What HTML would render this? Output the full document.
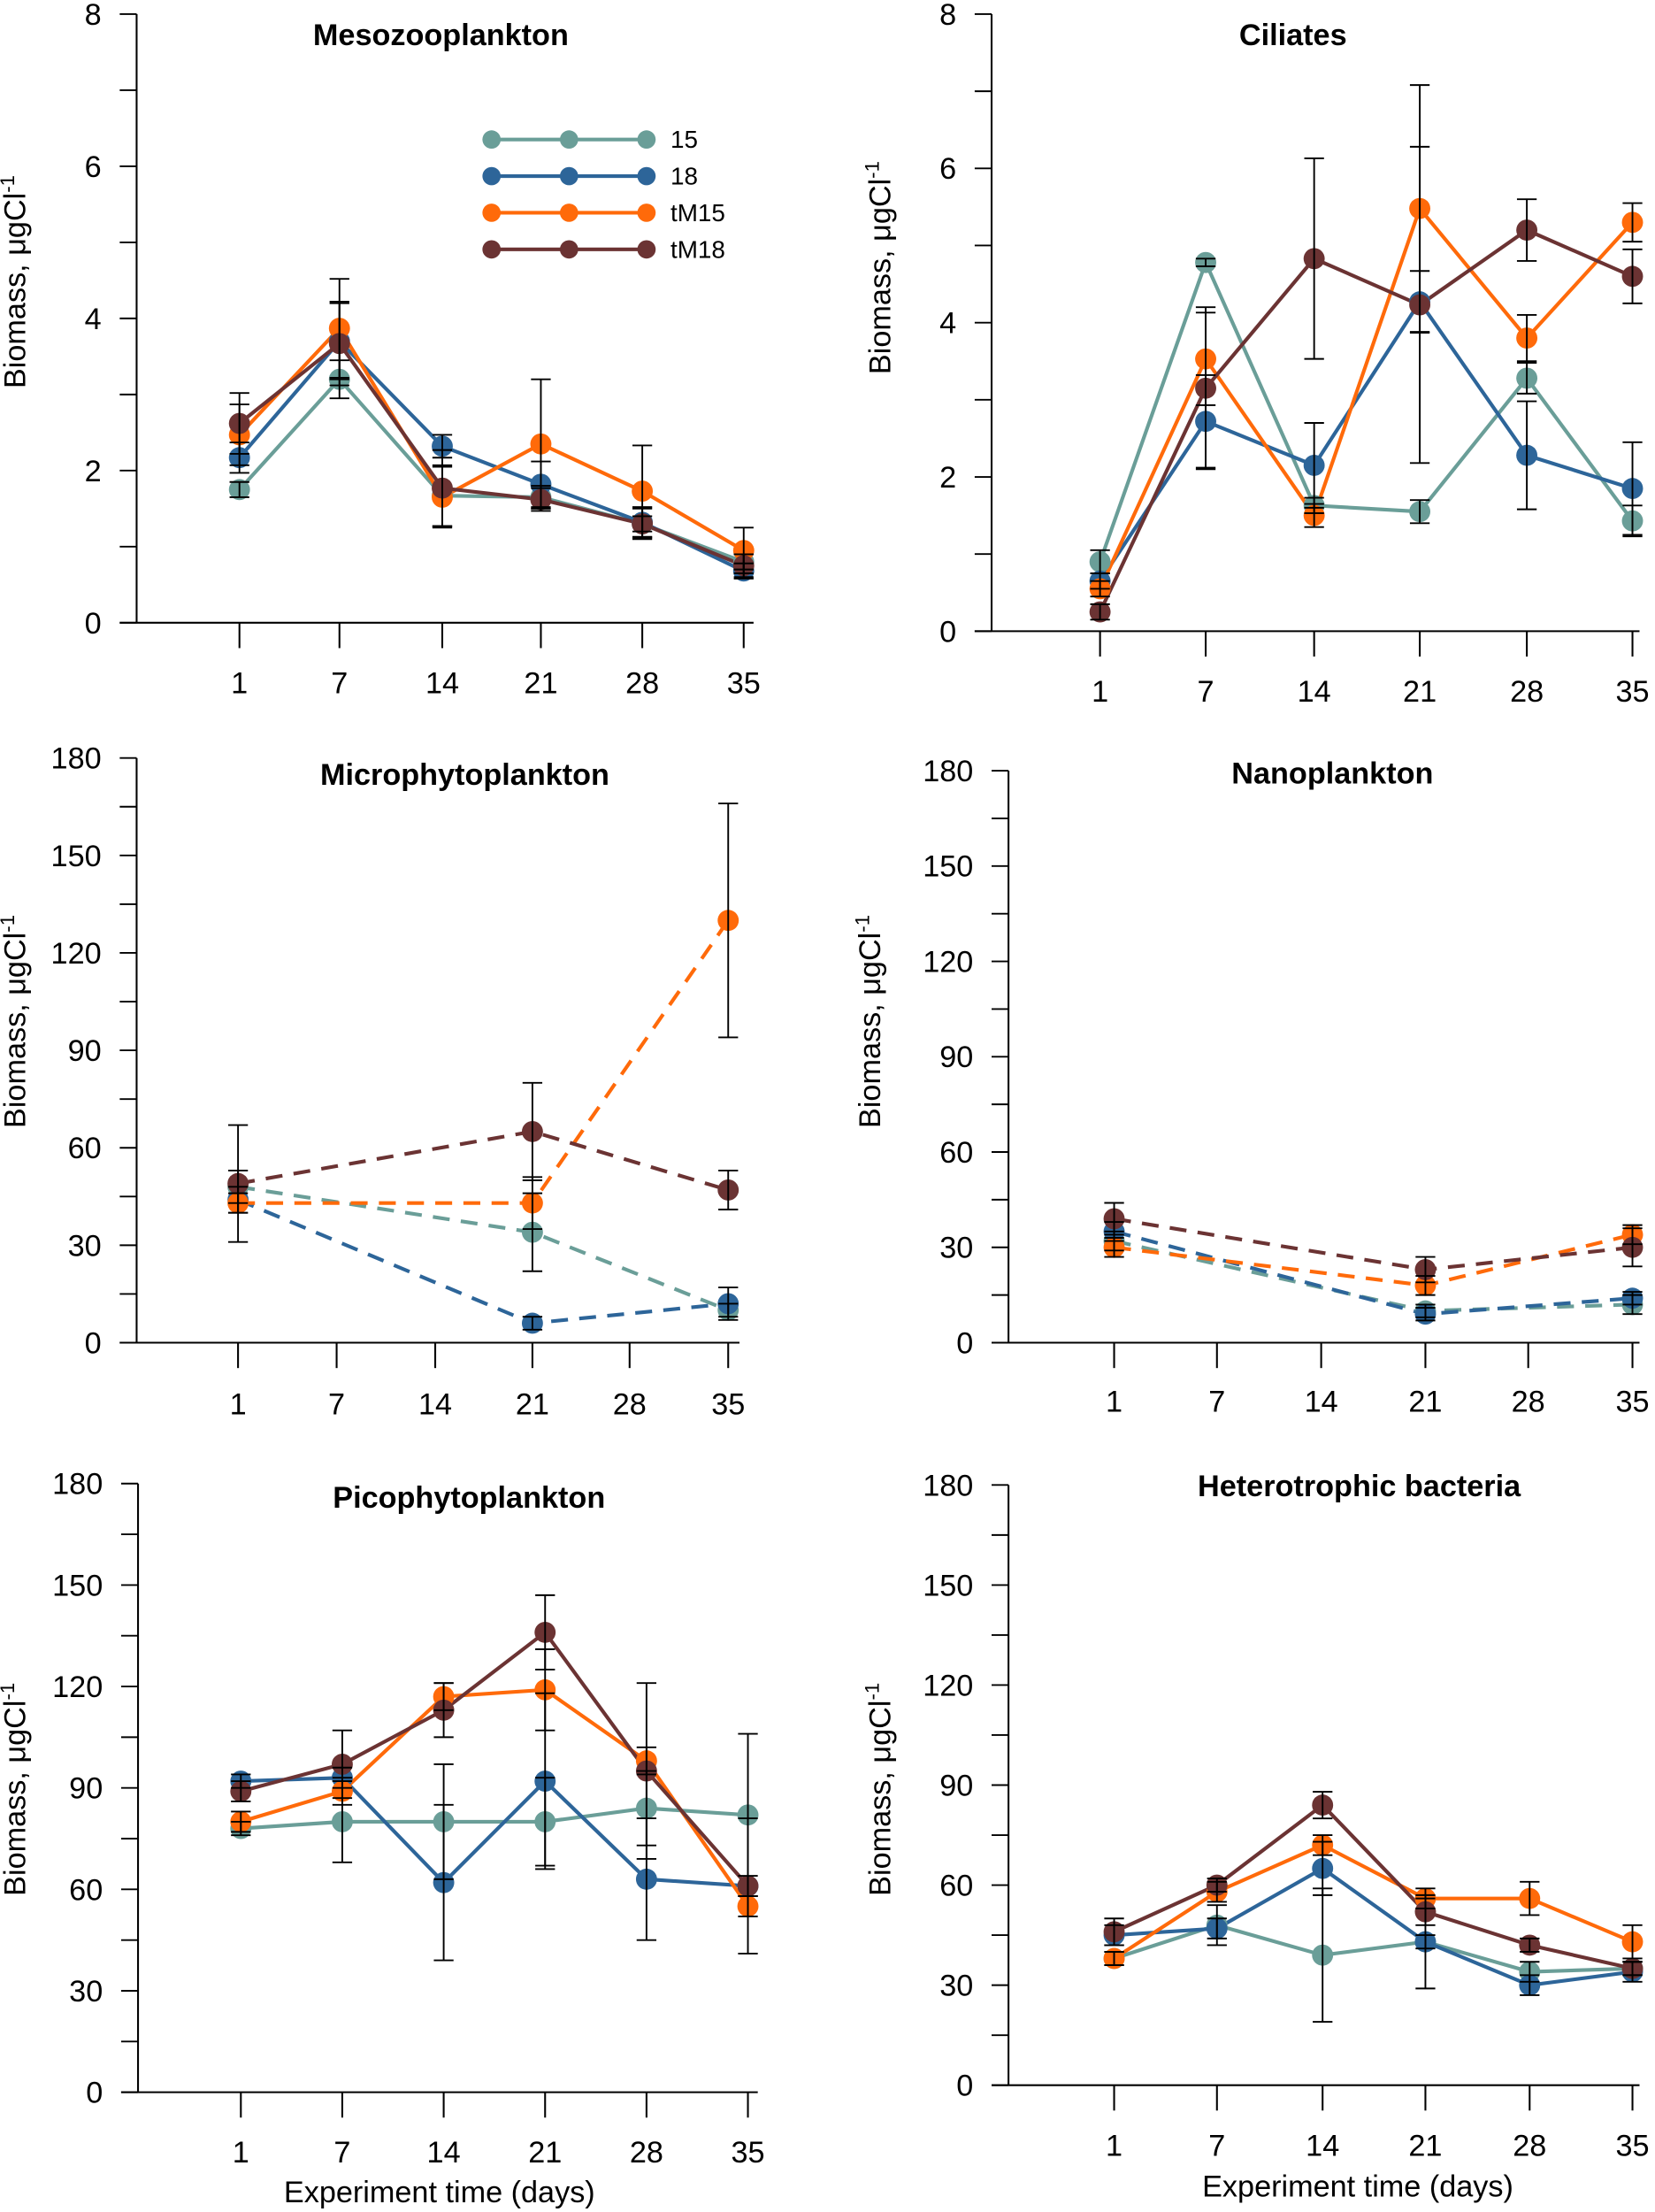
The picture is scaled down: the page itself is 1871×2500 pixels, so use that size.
<!DOCTYPE html>
<html><head><meta charset="utf-8"><style>
html,body{margin:0;padding:0;background:#fff;}
svg{display:block;}
text{font-family:"Liberation Sans",Arial,sans-serif;fill:#000;}
</style></head><body>
<svg id="chart" xmlns="http://www.w3.org/2000/svg" width="1871" height="2500" viewBox="0 0 1175 1570"></svg>
<script>
const days = [1, 7, 14, 21, 28, 35];
const seriesNames = ["15", "18", "tM15", "tM18"];
const colors = ["#6a9e98", "#2d6599", "#ff6a0a", "#6b3333"];

const mesoDays = [1, 7, 14, 21, 28, 35];
const meso15 = [1.75, 3.2, 1.67, 1.65, 1.3, 0.8];
const meso18 = [2.17, 3.7, 2.32, 1.82, 1.32, 0.68];
const mesoM15 = [2.47, 3.87, 1.65, 2.35, 1.73, 0.95];
const mesoM18 = [2.62, 3.67, 1.77, 1.62, 1.3, 0.75];
const mesoErr15 = [0.1, 0.25, 0.4, 0.15, 0.1, 0.1];
const mesoErr18 = [0.2, 0.5, 0.15, 0.3, 0.2, 0.1];
const mesoErrM15 = [0.4, 0.65, 0.4, 0.85, 0.6, 0.3];
const mesoErrM18 = [0.4, 0.55, 0.5, 0.15, 0.2, 0.15];

const ciliDays = [1, 7, 14, 21, 28, 35];
const cili15 = [0.9, 4.78, 1.63, 1.55, 3.28, 1.43];
const cili18 = [0.65, 2.72, 2.15, 4.27, 2.28, 1.85];
const ciliM15 = [0.55, 3.53, 1.5, 5.48, 3.8, 5.3];
const ciliM18 = [0.25, 3.15, 4.83, 4.23, 5.2, 4.6];
const ciliErr15 = [0.15, 0.05, 0.1, 0.15, 0.2, 0.2];
const ciliErr18 = [0.1, 0.6, 0.55, 0.4, 0.7, 0.6];
const ciliErrM15 = [0.1, 0.6, 0.15, 1.6, 0.3, 0.25];
const ciliErrM18 = [0.1, 1.05, 1.3, 2.05, 0.4, 0.35];

const microDays = [1, 21, 35];
const micro15 = [48, 34, 10];
const micro18 = [44, 6, 12];
const microM15 = [43, 43, 130];
const microM18 = [49, 65, 47];
const microErr15 = [5, 12, 2];
const microErr18 = [4, 2, 5];
const microErrM15 = [3, 8, 36];
const microErrM18 = [18, 15, 6];

const nanoDays = [1, 21, 35];
const nano15 = [32, 10, 12];
const nano18 = [35, 9, 14];
const nanoM15 = [30, 18, 34];
const nanoM18 = [39, 23, 30];
const nanoErr15 = [3, 2, 3];
const nanoErr18 = [3, 2, 2];
const nanoErrM15 = [3, 3, 3];
const nanoErrM18 = [5, 4, 6];

const picoDays = [1, 7, 14, 21, 28, 35];
const pico15 = [78, 80, 80, 80, 84, 82];
const pico18 = [92, 93, 62, 92, 63, 61];
const picoM15 = [80, 89, 117, 119, 98, 55];
const picoM18 = [89, 97, 113, 136, 95, 61];
const picoErr15 = [2, 12, 17, 13, 11, 24];
const picoErr18 = [2, 3, 23, 26, 18, 20];
const picoErrM15 = [3, 4, 4, 12, 4, 3];
const picoErrM18 = [3, 10, 8, 11, 26, 3];

const bactDays = [1, 7, 14, 21, 28, 35];
const bact15 = [38, 48, 39, 43, 34, 35];
const bact18 = [45, 47, 65, 43, 30, 34];
const bactM15 = [38, 58, 72, 56, 56, 43];
const bactM18 = [46, 60, 84, 52, 42, 35];
const bactErr15 = [2, 6, 20, 2, 3, 2];
const bactErr18 = [3, 3, 8, 14, 3, 3];
const bactErrM15 = [2, 3, 3, 3, 5, 5];
const bactErrM18 = [4, 2, 4, 4, 2, 2];

const svg = document.getElementById('chart');
const NS = "http://www.w3.org/2000/svg";
function mk(tag, attrs, parent) {
  const e = document.createElementNS(NS, tag);
  for (const k in attrs) e.setAttribute(k, attrs[k]);
  (parent || svg).appendChild(e);
  return e;
}

const panels = [
  {key:"meso", title:"Mesozooplankton", tx:313, ty:32, ax:97, y0:442, yTop:10, ymax:8, major:2, minor:1, tickX:[170,241,314,384,456,528], lblY:492, ylx:18, yly:200, xDays:mesoDays, dashed:false, legend:true,
   vals:[meso15,meso18,mesoM15,mesoM18], errs:[mesoErr15,mesoErr18,mesoErrM15,mesoErrM18], xEnd:535},
  {key:"ciliates", title:"Ciliates", tx:918, ty:32, ax:704, y0:448, yTop:10, ymax:8, major:2, minor:1, tickX:[781,856,933,1008,1084,1159], lblY:498, ylx:632, yly:190, xDays:ciliDays, dashed:false,
   vals:[cili15,cili18,ciliM15,ciliM18], errs:[ciliErr15,ciliErr18,ciliErrM15,ciliErrM18], xEnd:1164},
  {key:"micro", title:"Microphytoplankton", tx:330, ty:557, ax:97, y0:953, yTop:538, ymax:180, major:30, minor:15, tickX:[169,239,309,378,447,517], lblY:1004, ylx:18, yly:725, xDays:microDays, dashed:true,
   vals:[micro15,micro18,microM15,microM18], errs:[microErr15,microErr18,microErrM15,microErrM18], xEnd:525},
  {key:"nano", title:"Nanoplankton", tx:946, ty:556, ax:716, y0:953, yTop:547, ymax:180, major:30, minor:15, tickX:[791,864,938,1012,1085,1159], lblY:1002, ylx:625, yly:725, xDays:nanoDays, dashed:true,
   vals:[nano15,nano18,nanoM15,nanoM18], errs:[nanoErr15,nanoErr18,nanoErrM15,nanoErrM18], xEnd:1164},
  {key:"pico", title:"Picophytoplankton", tx:333, ty:1070, ax:98, y0:1485, yTop:1053, ymax:180, major:30, minor:15, tickX:[171,243,315,387,459,531], lblY:1535, ylx:18, yly:1270, xDays:picoDays, dashed:false, xtitle:[312,1563],
   vals:[pico15,pico18,picoM15,picoM18], errs:[picoErr15,picoErr18,picoErrM15,picoErrM18], xEnd:538},
  {key:"bacteria", title:"Heterotrophic bacteria", tx:965, ty:1062, ax:716, y0:1480, yTop:1054, ymax:180, major:30, minor:15, tickX:[791,864,939,1012,1086,1159], lblY:1530, ylx:632, yly:1270, xDays:bactDays, dashed:false, xtitle:[964,1559],
   vals:[bact15,bact18,bactM15,bactM18], errs:[bactErr15,bactErr18,bactErrM15,bactErrM18], xEnd:1164}
];

panels.forEach(p => {
  const g = mk('g', {});
  
  
  const yS = v => p.y0 - v / p.ymax * (p.y0 - p.yTop);
  const xS = d => p.tickX[days.indexOf(d)];
  const ya = mk('line', {x1:p.ax, y1:p.yTop, x2:p.ax, y2:p.y0, stroke:'#000', 'stroke-width':1.3}, g);
  
  
  const xa = mk('line', {x1:p.ax-12, y1:p.y0, x2:p.xEnd, y2:p.y0, stroke:'#000', 'stroke-width':1.3}, g);
  
  
  for (let v = 0; v <= p.ymax + 1e-9; v += p.minor) {
    const y = yS(v);
    mk('line', {x1:p.ax-12, y1:y, x2:p.ax, y2:y, stroke:'#000', 'stroke-width':1.2}, g);
    if (Math.abs(v / p.major - Math.round(v / p.major)) < 1e-6) {
      const t = mk('text', {x:p.ax-25, y:y+7.5, 'text-anchor':'end', 'font-size':21.5}, g);
      t.textContent = v;
      
      
    }
  }
  days.forEach((d, i) => {
    const x = p.tickX[i];
    mk('line', {x1:x, y1:p.y0, x2:x, y2:p.y0+18, stroke:'#000', 'stroke-width':1.3}, g);
    const t = mk('text', {x:x, y:p.lblY, 'text-anchor':'middle', 'font-size':21.5}, g);
    t.textContent = d;
    
    
  });
  const tt = mk('text', {x:p.tx, y:p.ty, 'text-anchor':'middle', 'font-size':21.5, 'font-weight':'bold'}, g);
  tt.textContent = p.title;
  
  
  const yl = mk('text', {x:0, y:0, 'text-anchor':'middle', 'font-size':21.5, transform:`translate(${p.ylx},${p.yly}) rotate(-90)`}, g);
  yl.innerHTML = 'Biomass, μgCl<tspan dy="-8" font-size="14">-1</tspan>';
  
  
  if (p.xtitle) {
    const xt = mk('text', {x:p.xtitle[0], y:p.xtitle[1], 'text-anchor':'middle', 'font-size':21.5}, g);
    xt.textContent = 'Experiment time (days)';
    
    
  }
  p.vals.forEach((vals, s) => {
    const pts = vals.map((v, i) => xS(p.xDays[i]) + ',' + yS(v)).join(' ');
    const pl = mk('polyline', {points:pts, fill:'none', stroke:colors[s], 'stroke-width':2.6, 'stroke-dasharray':p.dashed ? '12,8' : 'none'}, g);
    
    
  });
  p.vals.forEach((vals, s) => {
    vals.forEach((v, i) => {
      const c = mk('circle', {cx:xS(p.xDays[i]), cy:yS(v), r:7.5, fill:colors[s]}, g);
      
      
    });
  });
  p.vals.forEach((vals, s) => {
    vals.forEach((v, i) => {
      const e = p.errs[s][i];
      const x = xS(p.xDays[i]);
      const eb = mk('path', {d:`M${x},${yS(v+e)}V${yS(Math.max(0,v-e))}M${x-7},${yS(v+e)}H${x+7}M${x-7},${yS(Math.max(0,v-e))}H${x+7}`, stroke:'#000', 'stroke-width':1.2, fill:'none'}, g);
      
      
    });
  });
  if (p.legend) {
    seriesNames.forEach((n, s) => {
      const y = 99 + s * 26;
      const lg = mk('g', {}, g);
      
      
      mk('line', {x1:349, y1:y, x2:459, y2:y, stroke:colors[s], 'stroke-width':2.6}, lg);
      [349, 404, 459].forEach(x => mk('circle', {cx:x, cy:y, r:6.5, fill:colors[s]}, lg));
      const t = mk('text', {x:476, y:y+6, 'font-size':17.5}, lg);
      t.textContent = n;
    });
  }
});
</script>
</body></html>
